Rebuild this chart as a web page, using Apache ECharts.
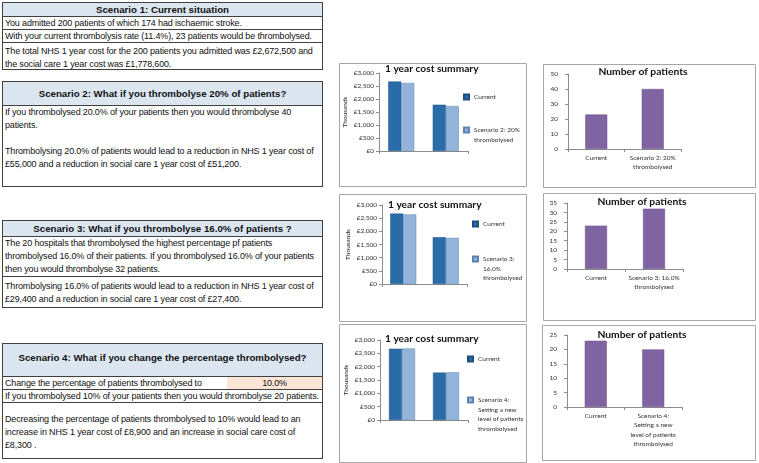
<!DOCTYPE html>
<html>
<head>
<meta charset="utf-8">
<script src="https://cdn.jsdelivr.net/npm/echarts@6/dist/echarts.min.js"></script>
<style>
  html, body { margin: 0; padding: 0; background: #fff; }
  #wrap { position: relative; width: 759px; height: 463px; overflow: hidden; }
  #chart { position: absolute; left: 0; top: 0; width: 759px; height: 463px; }
  .box { position: absolute; border: 1px solid #404040; background: #fff; box-sizing: border-box; }
  .row { position: absolute; left: 0; right: 0; box-sizing: border-box; white-space: nowrap;
         font-family: "Liberation Sans", Arial, sans-serif;
         font-size: 9px; letter-spacing: -0.16px; line-height: 13px; color: #111; padding-left: 2px; }
  .row.b { border-top: 1px solid #404040; }
  .hdr { background: #DCE6F1; text-align: center; font-family: "Liberation Sans", sans-serif;
         font-weight: bold; font-size: 9.7px; letter-spacing: 0; padding-left: 0; }
  .peach { position: absolute; top: 0; bottom: 0; left: 224px; right: 0; background: #FCE4D6; text-align: center; }
</style>
</head>
<body>
<div id="wrap">
  <div id="chart"></div>

  <div class="box" style="left:2px; top:2px; width:321px; height:68px;">
    <div class="row hdr" style="top:0; height:13px; line-height:13px;">Scenario 1: Current situation</div>
    <div class="row b" style="top:13px; height:13px; line-height:12px;">You admitted 200 patients of which 174 had ischaemic stroke.</div>
    <div class="row b" style="top:26px; height:13px; line-height:12px;">With your current thrombolysis rate (11.4%), 23 patients would be thrombolysed.</div>
    <div class="row b" style="top:39px; height:28px; padding-top:2px;">The total NHS 1 year cost for the 200 patients you admitted was £2,672,500 and<br>the social care 1 year cost was £1,778,600.</div>
  </div>

  <div class="box" style="left:2px; top:81px; width:321px; height:106px;">
    <div class="row hdr" style="top:0; height:23px; line-height:23px;">Scenario 2: What if you thrombolyse 20% of patients?</div>
    <div class="row b" style="top:23px; height:81px; padding-top:0;">If you thrombolysed 20.0% of your patients then you would thrombolyse 40<br>patients.<br>&nbsp;<br>Thrombolysing 20.0% of patients would lead to a reduction in NHS 1 year cost of<br>£55,000 and a reduction in social care 1 year cost of £51,200.</div>
  </div>

  <div class="box" style="left:2px; top:220px; width:321px; height:88px;">
    <div class="row hdr" style="top:0; height:15px; line-height:15px;">Scenario 3: What if you thrombolyse 16.0% of patients ?</div>
    <div class="row b" style="top:15px; height:40px; padding-top:0;">The 20 hospitals that thrombolysed the highest percentage pf patients<br>thrombolysed 16.0% of their patients. If you thrombolysed 16.0% of your patients<br>then you would thrombolyse 32 patients.</div>
    <div class="row b" style="top:55px; height:31px; padding-top:3px;">Thrombolysing 16.0% of patients would lead to a reduction in NHS 1 year cost of<br>£29,400 and a reduction in social care 1 year cost of £27,400.</div>
  </div>

  <div class="box" style="left:2px; top:343px; width:321px; height:116px;">
    <div class="row hdr" style="top:0; height:32px; line-height:28px;">Scenario 4: What if you change the percentage thrombolysed?</div>
    <div class="row b" style="top:32px; height:13px; line-height:12px;">Change the percentage of patients thrombolysed to<div class="peach">10.0%</div></div>
    <div class="row b" style="top:45px; height:13px; line-height:12px;">If you thrombolysed 10% of your patients then you would thrombolyse 20 patients.</div>
    <div class="row b" style="top:58px; height:56px; padding-top:10px;">Decreasing the percentage of patients thrombolysed to 10% would lead to an<br>increase in NHS 1 year cost of £8,900 and an increase in social care cost of<br>£8,300 .</div>
  </div>
</div>

<script>
// ---------- data ----------
const costCategories = ['NHS', 'Social care'];
const costCurrent   = [2672.5, 1778.6];
const costScenario2 = [2617.5, 1727.4];
const costScenario3 = [2643.1, 1751.2];
const costScenario4 = [2681.4, 1786.9];

const scenario2Name = 'Scenario 2: 20% thrombolysed';
const scenario3Name = 'Scenario 3: 16.0% thrombolysed';
const scenario4Name = 'Scenario 4: Setting a new level of patients thrombolysed';

const patientCats2 = ['Current', 'Scenario 2: 20%\nthrombolysed'];
const patientCats3 = ['Current', 'Scenario 3: 16.0%\nthrombolysed'];
const patientCats4 = ['Current', 'Scenario 4:\nSetting a new\nlevel of patients\nthrombolysed'];
const patients2 = [23, 40];
const patients3 = [23, 32];
const patients4 = [23, 20];

const costTitle = '1 year cost summary';
const patientTitle = 'Number of patients';

// ---------- styling / layout ----------
const FONT = 'Lato, "Open Sans", sans-serif';
const DARK = '#2A6CA8', LIGHT = '#93B3DA', PURPLE = '#8064A2';
const AX = '#8c8c8c';

const legendWrap = {
  'Current': 'Current',
  [scenario2Name]: 'Scenario 2: 20%\nthrombolysed',
  [scenario3Name]: 'Scenario 3:\n16.0%\nthrombolysed',
  [scenario4Name]: 'Scenario 4:\nSetting a new\nlevel of patients\nthrombolysed'
};

const costGrids = [
  { left: 379, top: 73, width: 89, height: 78 },
  { left: 382, top: 205, width: 85, height: 79 },
  { left: 380, top: 340, width: 88, height: 80 }
];
const patGrids = [
  { left: 568, top: 74, width: 113, height: 75 },
  { left: 567, top: 203, width: 116, height: 66 },
  { left: 567, top: 335, width: 115, height: 72 }
];
const panels = [
  [339, 63, 187, 123], [543, 64, 212, 123],
  [339, 194, 187, 127], [543, 193, 212, 127],
  [339, 324, 187, 138], [542, 325, 213, 135]
];

const costScen = [costScenario2, costScenario3, costScenario4];
const scenNames = [scenario2Name, scenario3Name, scenario4Name];
const patData = [patients2, patients3, patients4];
const patCats = [patientCats2, patientCats3, patientCats4];
const patMax = [50, 35, 25];
const patInt = [10, 5, 5];
const costTitlePos = [[385, 64], [388, 200], [385, 334]];
const patTitleY = [67, 197, 330];
const legendPos = [ // [x, currentIconY, scenarioIconY]
  [463, 97, 130], [472, 224, 259], [467, 359, 400]
];
const LH = 9.5;

const grids = [], xAxes = [], yAxes = [], series = [], titles = [], legends = [];
const smallText = { fontFamily: FONT, fontSize: 6.5, color: '#333' };

for (let i = 0; i < 3; i++) {
  // cost chart
  grids.push(costGrids[i]);
  const cg = grids.length - 1;
  xAxes.push({ type: 'category', gridIndex: cg, data: costCategories,
    axisLine: { lineStyle: { color: AX } }, axisTick: { show: true, length: 3, lineStyle: { color: AX } },
    axisLabel: { show: false } });
  yAxes.push({ type: 'value', gridIndex: cg, min: 0, max: 3000, interval: 500,
    name: 'Thousands', nameLocation: 'middle', nameGap: 31, nameRotate: 90,
    nameTextStyle: { fontFamily: FONT, fontSize: 6.5, color: '#222' },
    axisLine: { show: true, lineStyle: { color: AX } },
    axisTick: { show: true, length: 3, lineStyle: { color: AX } },
    splitLine: { show: false },
    axisLabel: Object.assign({ margin: 5, formatter: v => '£' + v.toLocaleString('en-GB') }, smallText) });
  const ax = xAxes.length - 1;
  series.push({ type: 'bar', name: 'Current', xAxisIndex: ax, yAxisIndex: ax, data: costCurrent,
    barWidth: 13, barGap: '0%', itemStyle: { color: DARK, borderColor: '#1d4f7e', borderWidth: 0.5 } });
  series.push({ type: 'bar', name: scenNames[i], xAxisIndex: ax, yAxisIndex: ax, data: costScen[i],
    barWidth: 13, barGap: '0%', itemStyle: { color: LIGHT, borderColor: '#5c84b3', borderWidth: 0.5 } });
  titles.push({ text: costTitle, left: costTitlePos[i][0], top: costTitlePos[i][1], padding: 0,
    textStyle: { fontFamily: FONT, fontSize: 10.2, fontWeight: 'bold', color: '#111' } });

  // legends: one per item; blank leading lines so the icon sits on the first text line
  const [lx, y1, y2] = legendPos[i];
  [['Current', y1], [scenNames[i], y2]].forEach(([nm, yc]) => {
    const n = legendWrap[nm].split('\n').length;
    legends.push({ data: [nm],
      left: lx, top: yc - (2 * n - 1) * LH / 2, orient: 'vertical', padding: 0,
      itemWidth: 5, itemHeight: 5, icon: 'rect', selectedMode: false,
      formatter: nm2 => { const t = legendWrap[nm2]; const k = t.split('\n').length; return '\n'.repeat(k - 1) + t; },
      textStyle: Object.assign({ lineHeight: LH }, smallText) });
  });

  // patients chart
  grids.push(patGrids[i]);
  const pg = grids.length - 1;
  xAxes.push({ type: 'category', gridIndex: pg, data: patCats[i],
    axisLine: { lineStyle: { color: AX } }, axisTick: { show: true, length: 3, lineStyle: { color: AX } },
    axisLabel: Object.assign({ interval: 0, margin: 4, lineHeight: LH }, smallText) });
  yAxes.push({ type: 'value', gridIndex: pg, min: 0, max: patMax[i], interval: patInt[i],
    axisLine: { show: true, lineStyle: { color: AX } },
    axisTick: { show: true, length: 3, lineStyle: { color: AX } },
    splitLine: { show: false },
    axisLabel: Object.assign({ margin: 10 }, smallText) });
  const px = xAxes.length - 1;
  series.push({ type: 'bar', name: 'Patients ' + (i + 2), xAxisIndex: px, yAxisIndex: px, data: patData[i],
    barWidth: 22, itemStyle: { color: PURPLE, borderColor: '#6a4f8c', borderWidth: 0.5 } });
  titles.push({ text: patientTitle, left: (patGrids[i].left + 75), top: patTitleY[i], padding: 0,
    textAlign: 'center',
    textStyle: { fontFamily: FONT, fontSize: 10.3, fontWeight: 'bold', color: '#111' } });
}

const graphic = panels.map(([x, y, w, h]) => ({
  type: 'rect', z: -10, shape: { x: x + 0.5, y: y + 0.5, width: w, height: h },
  style: { fill: '#fff', stroke: '#a6a6a6', lineWidth: 1 }
}));

const chart = echarts.init(document.getElementById('chart'), null, { renderer: 'canvas' });
chart.setOption({
  animation: false,
  backgroundColor: '#fff',
  graphic: graphic,
  title: titles,
  legend: legends,
  grid: grids,
  xAxis: xAxes,
  yAxis: yAxes,
  series: series
});
</script>
</body>
</html>
